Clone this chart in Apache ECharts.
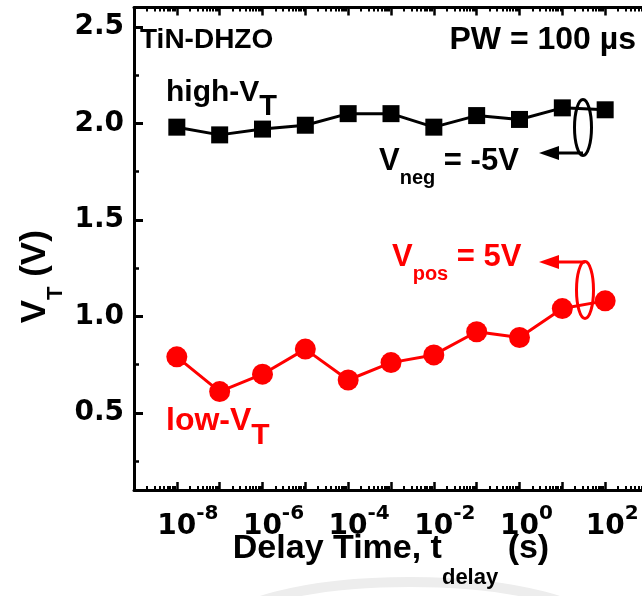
<!DOCTYPE html>
<html><head><meta charset="utf-8">
<script src="https://cdn.jsdelivr.net/npm/echarts@6/dist/echarts.min.js"></script>
<style>html,body{margin:0;padding:0;background:#fff}#c{width:642px;height:596px}</style>
</head><body><div id="c"></div>
<script>
// ---- data ----
const delayTimes = [1e-8, 1e-7, 1e-6, 1e-5, 1e-4, 1e-3, 1e-2, 1e-1, 1e0, 1e1, 1e2];
const highVT = [1.98, 1.94, 1.97, 1.99, 2.05, 2.05, 1.98, 2.04, 2.02, 2.08, 2.07];
const lowVT  = [0.79, 0.61, 0.70, 0.83, 0.67, 0.76, 0.80, 0.92, 0.89, 1.04, 1.08];
const yMajorTicks = [0.5, 1.0, 1.5, 2.0, 2.5];
const yMinorTicks = [0.25, 0.75, 1.25, 1.75, 2.25];
const xLabelValues = [1e-8, 1e-6, 1e-4, 1e-2, 1e0, 1e2];
const xMin = 1e-9, xMax = 1e3, yMin = 0.1, yMax = 2.6;

const xDecadeTicks = [];
const xMinorTicks = [];
for (let e = -9; e <= 3; e++) {
  xDecadeTicks.push(Number('1e' + e));
  if (e < 3) for (let m = 2; m <= 9; m++) xMinorTicks.push(Number(m + 'e' + e));
}

const F_NUM = 'DejaVu Sans';
const F_TXT = 'Liberation Sans';
const RED = '#ff0000';

function xLabel(v) {
  const e = Math.round(Math.log10(v));
  return (e < 0 ? '{bn|10}' : '{bp|10}') + '{s|' + e + '}';
}

const chart = echarts.init(document.getElementById('c'));

const hiddenAxisBits = { axisLine: { show: false }, axisLabel: { show: false }, splitLine: { show: false } };

const option = {
  animation: false,
  backgroundColor: '#fff',
  grid: { left: 134, right: -6, top: 7.5, bottom: 106, containLabel: false, outerBoundsMode: 'none' },
  xAxis: [
    {
      type: 'log', logBase: 10, min: xMin, max: xMax, position: 'bottom',
      axisLine: { show: true, onZero: false, lineStyle: { color: '#000', width: 3 } },
      axisTick: { show: true, inside: true, length: 8, lineStyle: { color: '#000', width: 2.5 }, customValues: xDecadeTicks },
      axisLabel: {
        show: true, customValues: xLabelValues, formatter: xLabel, margin: 23,
        rich: {
          bn: { fontFamily: F_NUM, fontWeight: 'bold', fontSize: 28, color: '#000', padding: [0, 0, 0, 22] },
          bp: { fontFamily: F_NUM, fontWeight: 'bold', fontSize: 28, color: '#000', padding: [0, 0, 0, 14] },
          s: { fontFamily: F_NUM, fontWeight: 'bold', fontSize: 20, color: '#000', lineHeight: 20, padding: [0, 0, 26, 0] }
        }
      },
      splitLine: { show: false },
      name: '{m|Delay Time, t}{s|delay}{m| (s)}',
      nameLocation: 'middle', nameGap: 42, nameMoveOverlap: false,
      nameTextStyle: {
        rich: {
          m: { fontFamily: F_TXT, fontWeight: 'bold', fontSize: 34, color: '#000' },
          s: { fontFamily: F_TXT, fontWeight: 'bold', fontSize: 22, color: '#000', lineHeight: 22, padding: [58, 0, 0, 0] }
        }
      }
    },
    Object.assign({
      type: 'log', logBase: 10, min: xMin, max: xMax, position: 'bottom',
      axisTick: { show: true, inside: true, length: 4, lineStyle: { color: '#000', width: 2 }, customValues: xMinorTicks }
    }, hiddenAxisBits),
    {
      type: 'log', logBase: 10, min: xMin, max: xMax, position: 'top',
      axisLine: { show: true, onZero: false, lineStyle: { color: '#000', width: 3 } },
      axisTick: { show: true, inside: true, length: 8, lineStyle: { color: '#000', width: 2.5 }, customValues: xDecadeTicks },
      axisLabel: { show: false }, splitLine: { show: false }
    },
    Object.assign({
      type: 'log', logBase: 10, min: xMin, max: xMax, position: 'top',
      axisTick: { show: true, inside: true, length: 4, lineStyle: { color: '#000', width: 2 }, customValues: xMinorTicks }
    }, hiddenAxisBits)
  ],
  yAxis: [
    {
      type: 'value', min: yMin, max: yMax, position: 'left',
      axisLine: { show: true, onZero: false, lineStyle: { color: '#000', width: 3 } },
      axisTick: { show: true, inside: true, length: 9, lineStyle: { color: '#000', width: 3 }, customValues: yMajorTicks },
      axisLabel: {
        show: true, customValues: yMajorTicks, margin: 10,
        formatter: v => v.toFixed(1),
        fontFamily: F_NUM, fontWeight: 'bold', fontSize: 28, color: '#000'
      },
      splitLine: { show: false },
      name: '{m|V}{t|T}{e| (V)}',
      nameLocation: 'middle', nameGap: 81, nameRotate: 90, nameMoveOverlap: false,
      nameTextStyle: {
        rich: {
          m: { fontFamily: F_TXT, fontWeight: 'bold', fontSize: 35, color: '#000' },
          e: { fontFamily: F_TXT, fontWeight: 'bold', fontSize: 35, color: '#000', padding: [0, 56, 0, 0] },
          t: { fontFamily: F_TXT, fontWeight: 'bold', fontSize: 22, color: '#000', lineHeight: 22, padding: [40, 0, 0, 0] }
        }
      }
    },
    Object.assign({
      type: 'value', min: yMin, max: yMax, position: 'left',
      axisTick: { show: true, inside: true, length: 5, lineStyle: { color: '#000', width: 2.5 }, customValues: yMinorTicks }
    }, hiddenAxisBits)
  ],
  series: [
    {
      name: 'high-VT', type: 'line', xAxisIndex: 0, yAxisIndex: 0,
      data: delayTimes.map((t, i) => [t, highVT[i]]),
      symbol: 'rect', symbolSize: 17,
      lineStyle: { color: '#000', width: 3 }, itemStyle: { color: '#000' }, z: 3
    },
    {
      name: 'low-VT', type: 'line', xAxisIndex: 0, yAxisIndex: 0,
      data: delayTimes.map((t, i) => [t, lowVT[i]]),
      symbol: 'circle', symbolSize: 21,
      lineStyle: { color: RED, width: 3 }, itemStyle: { color: RED }, z: 3
    }
  ],
  graphic: [
    // faint watermark arc
    { type: 'ellipse', z: -10, silent: true, shape: { cx: 410, cy: 632, rx: 190, ry: 50 },
      style: { fill: 'none', stroke: '#ededed', lineWidth: 10 } },
    { type: 'text', z: 50, style: { text: 'TiN-DHZO', x: 140, y: 40, align: 'left', verticalAlign: 'middle',
      fontFamily: F_TXT, fontWeight: 'bold', fontSize: 28, fill: '#000' } },
    { type: 'text', z: 50, style: { text: 'PW = 100 \u00b5s', x: 636, y: 40, align: 'right', verticalAlign: 'middle',
      fontFamily: F_TXT, fontWeight: 'bold', fontSize: 32, fill: '#000' } },
    { type: 'text', z: 50, style: { text: '{m|high-V}{t|T}', x: 166, y: 93, align: 'left', verticalAlign: 'middle',
      rich: {
        m: { fontFamily: F_TXT, fontWeight: 'bold', fontSize: 30, fill: '#000' },
        t: { fontFamily: F_TXT, fontWeight: 'bold', fontSize: 29, lineHeight: 29, fill: '#000', padding: [27, 0, 0, 0] }
      } } },
    { type: 'text', z: 50, style: { text: '{m|V}{s|neg}{m| = -5V}', x: 379, y: 161.5, align: 'left', verticalAlign: 'middle',
      rich: {
        m: { fontFamily: F_TXT, fontWeight: 'bold', fontSize: 31, fill: '#000' },
        s: { fontFamily: F_TXT, fontWeight: 'bold', fontSize: 20, lineHeight: 20, fill: '#000', padding: [33, 0, 0, 0] }
      } } },
    { type: 'text', z: 50, style: { text: '{m|V}{s|pos}{m| = 5V}', x: 392, y: 257.5, align: 'left', verticalAlign: 'middle',
      rich: {
        m: { fontFamily: F_TXT, fontWeight: 'bold', fontSize: 31, fill: RED },
        s: { fontFamily: F_TXT, fontWeight: 'bold', fontSize: 20, lineHeight: 20, fill: RED, padding: [33, 0, 0, 0] }
      } } },
    { type: 'text', z: 50, style: { text: '{m|low-V}{t|T}', x: 166, y: 421, align: 'left', verticalAlign: 'middle',
      rich: {
        m: { fontFamily: F_TXT, fontWeight: 'bold', fontSize: 32, fill: RED },
        t: { fontFamily: F_TXT, fontWeight: 'bold', fontSize: 30, lineHeight: 30, fill: RED, padding: [30, 0, 0, 0] }
      } } },
    // black ellipse + arrow
    { type: 'ellipse', z: 50, shape: { cx: 583, cy: 127.5, rx: 8.5, ry: 28 }, style: { fill: 'none', stroke: '#000', lineWidth: 3 } },
    { type: 'polyline', z: 50, shape: { points: [[583, 153], [556, 153]] }, style: { stroke: '#000', lineWidth: 3, fill: 'none' } },
    { type: 'polygon', z: 50, shape: { points: [[539, 153], [559, 146], [559, 160]] }, style: { fill: '#000' } },
    // red ellipse + arrow
    { type: 'ellipse', z: 50, shape: { cx: 585, cy: 290, rx: 8.5, ry: 28.5 }, style: { fill: 'none', stroke: RED, lineWidth: 3 } },
    { type: 'polyline', z: 50, shape: { points: [[585, 262], [556, 262]] }, style: { stroke: RED, lineWidth: 3, fill: 'none' } },
    { type: 'polygon', z: 50, shape: { points: [[539, 262], [559, 255], [559, 269]] }, style: { fill: RED } }
  ]
};
chart.setOption(option);
</script>
</body></html>
